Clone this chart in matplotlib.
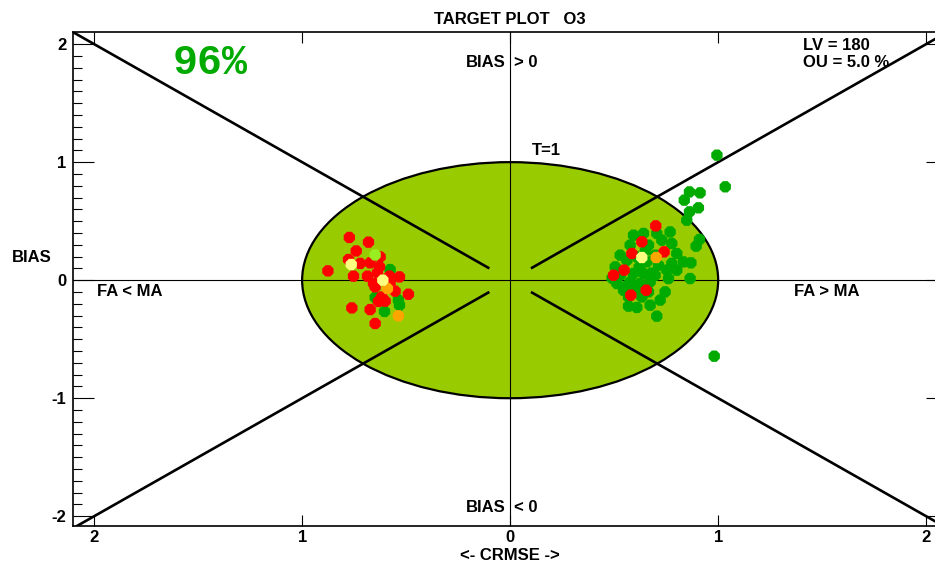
import matplotlib
matplotlib.use("Agg")
import matplotlib.pyplot as plt
from matplotlib.patches import Ellipse

# Target diagram for O3: signed CRMSE (x) vs normalised BIAS (y)
title = "TARGET PLOT   O3"
pct_text = "96%"
lv_text = "LV = 180"
ou_text = "OU = 5.0 %"
xtick_vals = [-2, -1, 0, 1, 2]
xtick_labels = ["2", "1", "0", "1", "2"]
ytick_vals = [-2, -1, 0, 1, 2]
ytick_labels = ["-2", "-1", "0", "1", "2"]

green_crmse = [-0.577, -0.649, -0.537, -0.532, -0.604,
               0.994, 1.034, 0.862, 0.913, 0.837, 0.905, 0.862, 0.849, 0.910, 0.894,
               0.869, 0.865, 0.745, 0.705, 0.981,
               0.593, 0.641, 0.705, 0.769, 0.729, 0.777, 0.577, 0.665, 0.801, 0.833,
               0.777, 0.505, 0.561, 0.609, 0.657, 0.713, 0.753, 0.529, 0.593, 0.641,
               0.697, 0.761, 0.513, 0.577, 0.625, 0.673, 0.545, 0.609, 0.665, 0.569,
               0.633, 0.569, 0.609, 0.801, 0.529, 0.697, 0.490, 0.721, 0.673, 0.620,
               0.680, 0.560, 0.650]
green_bias = [0.090, -0.147, -0.169, -0.212, -0.265,
              1.059, 0.791, 0.748, 0.740, 0.678, 0.613, 0.579, 0.508, 0.345, 0.288,
              0.147, 0.014, -0.099, -0.305, -0.644,
              0.381, 0.396, 0.396, 0.409, 0.339, 0.311, 0.297, 0.297, 0.226, 0.155,
              0.142, 0.113, 0.169, 0.197, 0.155, 0.127, 0.085, 0.042, 0.057, 0.057,
              0.042, 0.014, -0.028, -0.014, -0.028, -0.014, -0.085, -0.070, -0.099, -0.142,
              -0.142, -0.220, -0.231, 0.085, 0.212, 0.212, 0.017, -0.169, -0.212, 0.110,
              0.060, -0.050, 0.250]

red_crmse = [-0.773, -0.681, -0.740, -0.625, -0.777, -0.721, -0.673, -0.628, -0.876, -0.753,
             -0.686, -0.638, -0.580, -0.532, -0.657, -0.577, -0.553, -0.649, -0.489, -0.617,
             -0.601, -0.761, -0.673, -0.649, -0.633,
             0.700, 0.740, 0.585, 0.633, 0.497, 0.548, 0.580, 0.654]
red_bias = [0.362, 0.322, 0.248, 0.197, 0.175, 0.142, 0.147, 0.113, 0.079, 0.034,
            0.034, 0.062, 0.034, 0.028, -0.028, -0.028, -0.093, -0.057, -0.119, -0.142,
            -0.178, -0.235, -0.249, -0.367, -0.180,
            0.460, 0.240, 0.226, 0.325, 0.042, 0.085, -0.127, -0.085]

orange_crmse = [-0.590, -0.537, 0.702]
orange_bias = [-0.071, -0.302, 0.192]

yellow_crmse = [-0.764, -0.612, 0.633]
yellow_bias = [0.133, 0.000, 0.192]

lightgreen_crmse = [-0.649]
lightgreen_bias = [0.214]

W, H = 935, 564
fig = plt.figure(figsize=(W / 100, H / 100), dpi=100)
ax = fig.add_axes([73.3 / W, (H - 525.7) / H, (947 - 73.3) / W, (525.7 - 32.3) / H])
ax.set_xlim(-2.1, 2.1)
ax.set_ylim(-2.08, 2.1)

font = ["Liberation Sans Narrow", "Liberation Sans", "DejaVu Sans"]
fs = 12

# target circle (radius 1)
ax.add_patch(Ellipse((0, 0), 2, 2, facecolor="#99CC00", edgecolor="black",
                     linewidth=1.6, zorder=1))

# axes through the origin
ax.axhline(0, color="black", lw=0.8, zorder=2)
ax.axvline(0, color="black", lw=0.8, zorder=2)

# diagonals separating the quadrant sectors
for sx in (-1, 1):
    for sy in (-1, 1):
        ax.plot([0.1 * sx, 2.3 * sx], [0.1 * sy, 2.3 * sy], color="black",
                lw=1.9, zorder=3, solid_capstyle="butt")

ms = 78
ax.scatter(green_crmse, green_bias, s=ms, marker="8", color="#00AA00", edgecolors="none", zorder=4)
ax.scatter(red_crmse, red_bias, s=ms, marker="8", color="#FF0000", edgecolors="none", zorder=5)
ax.scatter(orange_crmse, orange_bias, s=ms, marker="8", color="#FFA500", edgecolors="none", zorder=6)
ax.scatter(yellow_crmse, yellow_bias, s=ms, marker="8", color="#FFFF80", edgecolors="none", zorder=6)
ax.scatter(lightgreen_crmse, lightgreen_bias, s=ms, marker="8", color="#99EE22",
           edgecolors="none", zorder=6)

# ticks
ax.set_xticks(xtick_vals)
ax.set_xticklabels(xtick_labels)
ax.set_yticks(ytick_vals)
ax.set_yticklabels(ytick_labels)
ax.set_yticks([v / 10 for v in range(-20, 21)], minor=True)
ax.tick_params(axis="x", which="major", direction="in", length=8, width=0.8,
               top=True, bottom=True, pad=3)
ax.tick_params(axis="y", which="major", direction="in", length=15, width=0.8,
               left=True, right=True, pad=5)
ax.tick_params(axis="y", which="minor", direction="in", length=6.5, width=0.8,
               left=True, right=False)
for lab in ax.get_xticklabels() + ax.get_yticklabels():
    lab.set_family(font)
    lab.set_fontweight("bold")
    lab.set_fontsize(fs)
for sp in ax.spines.values():
    sp.set_linewidth(1.2)

tk = dict(family=font, fontweight="bold", fontsize=fs, color="black")
ax.set_title(title, pad=6, **tk)
fig.text(32 / W, 1 - 257 / H, "BIAS", ha="center", va="center", **tk)
fig.text(510 / W, 1 - 556 / H, "<- CRMSE ->", ha="center", va="center", **tk)

ax.text(-0.02, 1.847, "BIAS", ha="right", va="center", **tk)
ax.text(0.02, 1.847, "> 0", ha="left", va="center", **tk)
ax.text(-0.02, -1.924, "BIAS", ha="right", va="center", **tk)
ax.text(0.02, -1.924, "< 0", ha="left", va="center", **tk)
ax.text(-1.827, -0.093, "FA < MA", ha="center", va="center", **tk)
ax.text(1.524, -0.093, "FA > MA", ha="center", va="center", **tk)
ax.text(0.173, 1.10, "T=1", ha="center", va="center", **tk)
ax.text(1.409, 1.99, lv_text, ha="left", va="center", **tk)
ax.text(1.409, 1.845, ou_text, ha="left", va="center", **tk)
ax.text(-1.442, 1.84, pct_text, ha="center", va="center", color="#00AA00",
        family=["Liberation Mono", "DejaVu Sans Mono"], fontweight="bold", fontsize=30)

fig.savefig("out.png", dpi=100)
